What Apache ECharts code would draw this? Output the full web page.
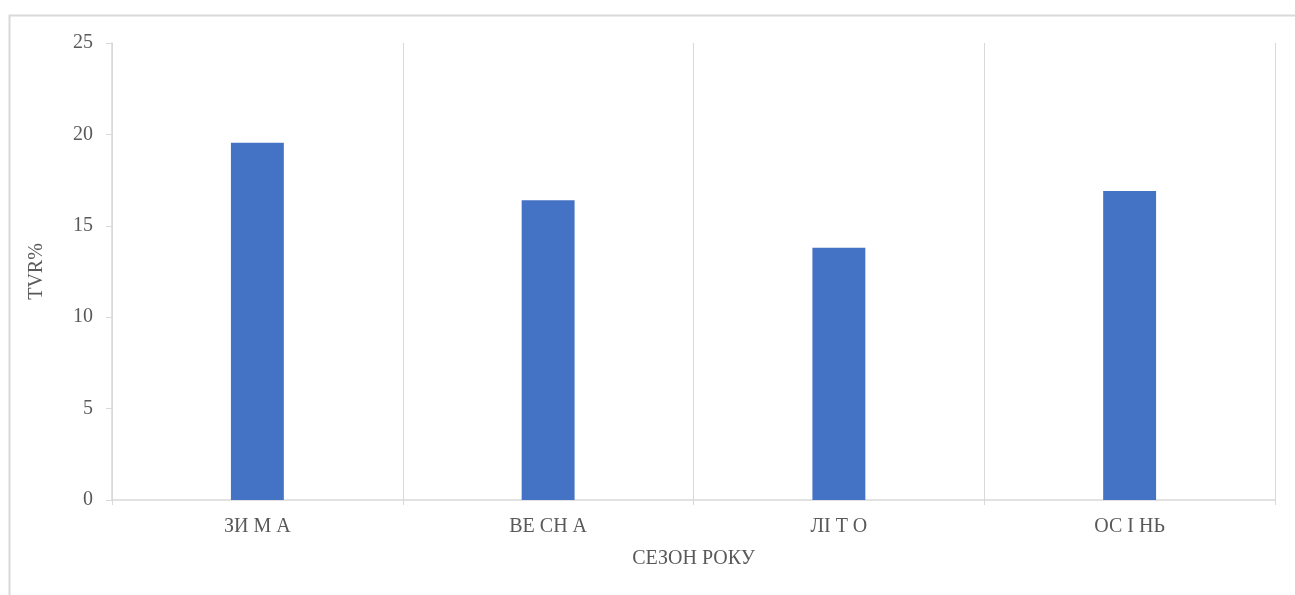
<!DOCTYPE html>
<html>
<head>
<meta charset="utf-8">
<script src="https://cdn.jsdelivr.net/npm/echarts@6/dist/echarts.min.js"></script>
<style>
  html, body { margin: 0; padding: 0; background: #fff; }
  #chart { width: 1295px; height: 595px; }
</style>
</head>
<body>
<div id="chart"></div>
<script>
// Seasonal TVR% values
const seasons = ['ЗИ М А', 'ВЕ СН А', 'ЛІ Т О', 'ОС І НЬ'];
const tvrValues = [19.55, 16.4, 13.8, 16.9];
const yTicks = { min: 0, max: 25, step: 5 };

const font = '"Liberation Serif", "Times New Roman", serif';
const textColor = '#595959';
const lineColor = '#d9d9d9';

const chart = echarts.init(document.getElementById('chart'), null, { renderer: 'canvas' });
chart.setOption({
  animation: false,
  backgroundColor: '#ffffff',
  graphic: [{
    type: 'rect',
    left: 7, top: 13,
    shape: { width: 1400, height: 700 },
    style: { fill: 'none', stroke: '#d9d9d9', lineWidth: 2 },
    silent: true, z: -1
  }],
  grid: { left: 112, right: 20, top: 43, bottom: 95 },
  xAxis: {
    type: 'category',
    data: seasons,
    boundaryGap: true,
    name: 'СЕЗОН РОКУ',
    nameLocation: 'middle',
    nameGap: 49,
    nameTextStyle: { fontFamily: font, fontSize: 20, color: textColor },
    axisLine: { show: true, lineStyle: { color: lineColor, width: 1.5 } },
    axisTick: { show: true, length: 5, interval: 0, lineStyle: { color: lineColor } },
    axisLabel: { margin: 17, fontFamily: font, fontSize: 20, color: textColor },
    splitLine: { show: true, interval: 0, lineStyle: { color: lineColor, width: 1 } }
  },
  yAxis: {
    type: 'value',
    min: yTicks.min, max: yTicks.max, interval: yTicks.step,
    name: 'TVR%',
    nameLocation: 'middle',
    nameGap: 65,
    nameRotate: 90,
    nameTextStyle: { fontFamily: font, fontSize: 20, color: textColor },
    axisLine: { show: true, lineStyle: { color: lineColor, width: 1.5 } },
    axisTick: { show: true, length: 6, lineStyle: { color: lineColor } },
    axisLabel: { margin: 19, fontFamily: font, fontSize: 20, color: textColor },
    splitLine: { show: false }
  },
  series: [{
    type: 'bar',
    data: tvrValues,
    barWidth: '18.2%',
    itemStyle: { color: '#4472c4' }
  }]
});
</script>
</body>
</html>
